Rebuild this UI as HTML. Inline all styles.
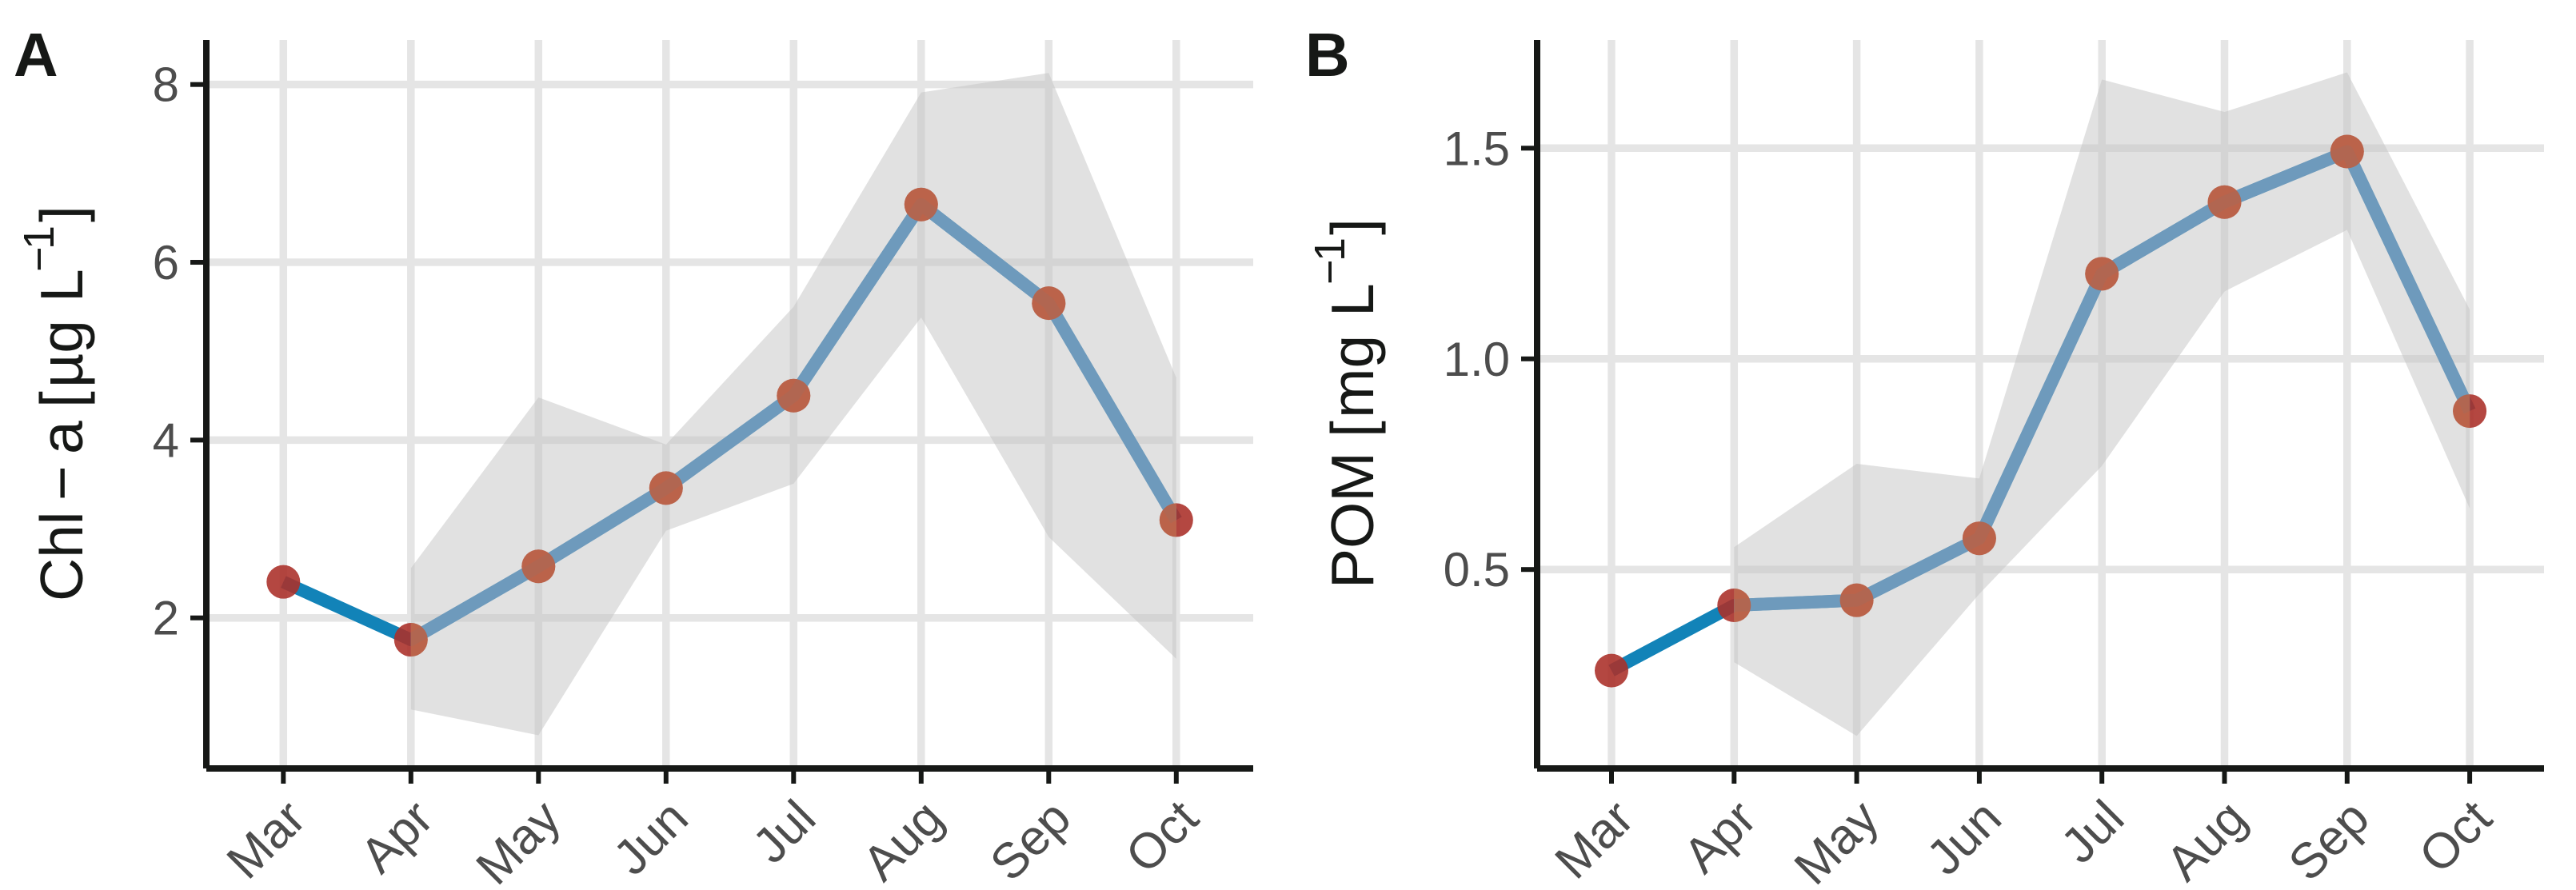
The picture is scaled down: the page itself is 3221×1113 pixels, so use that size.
<!DOCTYPE html>
<html lang="en">
<head>
<meta charset="utf-8">
<title>Chl-a and POM monthly means</title>
<style>
html,body{margin:0;padding:0;background:#fff;}
svg{display:block;font-family:"Liberation Sans",Arial,sans-serif;}
.lab{font-size:75px;fill:#161816;}
.sup{font-size:54px;fill:#161816;}
.tag{font-size:77px;font-weight:bold;fill:#161816;}
</style>
</head>
<body>
<svg id="chart" xmlns="http://www.w3.org/2000/svg" width="3221" height="1113" viewBox="0 0 3221 1113">
  <rect x="0" y="0" width="3221" height="1113" fill="#ffffff"/>
  <defs id="defs"></defs>
  <g id="panelA"></g>
  <g id="panelB"></g>

  <text class="tag" x="17" y="95">A</text>
  <text class="tag" x="1632" y="95">B</text>

  <g transform="translate(103,0) rotate(-90)">
    <text class="lab" x="-752" y="0">Chl</text>
    <text class="lab" x="-626" y="0">−</text>
    <text class="lab" x="-568" y="0">a</text>
    <text class="lab" x="-510" y="0">[</text>
    <text class="lab" x="-485" y="0">µg</text>
    <text class="lab" x="-378" y="0">L</text>
    <text class="sup" x="-340" y="-36">−</text>
    <text class="sup" x="-312" y="-36">1</text>
    <text class="lab" x="-278" y="0">]</text>
  </g>

  <g transform="translate(1717,0) rotate(-90)">
    <text class="lab" x="-736" y="0">POM</text>
    <text class="lab" x="-547" y="0">[</text>
    <text class="lab" x="-523" y="0">mg</text>
    <text class="lab" x="-396" y="0">L</text>
    <text class="sup" x="-356" y="-36">−</text>
    <text class="sup" x="-327" y="-36">1</text>
    <text class="lab" x="-294" y="0">]</text>
  </g>
</svg>

<script>
const months = ["Mar","Apr","May","Jun","Jul","Aug","Sep","Oct"];

const chlMean  = [2.405,1.754,2.58,3.46,4.50,6.65,5.54,3.10];
const chlUpper = [null,2.56,4.48,3.95,5.50,7.91,8.13,4.70];
const chlLower = [null,0.97,0.68,2.98,3.51,5.38,2.91,1.54];
const chlTicks = [2,4,6,8];
const chlTickLabels = ["2","4","6","8"];

const pomMean  = [0.26,0.415,0.427,0.574,1.202,1.372,1.492,0.876];
const pomUpper = [null,0.553,0.751,0.716,1.663,1.586,1.68,1.117];
const pomLower = [null,0.28,0.105,0.442,0.746,1.16,1.306,0.645];
const pomTicks = [0.5,1.0,1.5];
const pomTickLabels = ["0.5","1.0","1.5"];

const NS = "http://www.w3.org/2000/svg";

function make(tag, parent) {
  const e = document.createElementNS(NS, tag);
  parent.appendChild(e);
  return e;
}

function drawPanel(root, key, cfg, mean, upper, lower, ticks, tickLabels) {
  const xOf = i => cfg.x0 + i * cfg.dx;
  const yOf = v => cfg.yRef - (v - cfg.vRef) * cfg.perUnit;

  // horizontal grid
  ticks.forEach(function (t) {
    const g = make("line", root);
    
    
    g.setAttribute("x1", cfg.axisX);
    g.setAttribute("x2", cfg.right);
    g.setAttribute("y1", yOf(t));
    g.setAttribute("y2", yOf(t));
    g.setAttribute("stroke", "#e5e5e5");
    g.setAttribute("stroke-width", 9.5);
  });

  // vertical grid
  months.forEach(function (m, i) {
    const g = make("line", root);
    
    
    g.setAttribute("x1", xOf(i));
    g.setAttribute("x2", xOf(i));
    g.setAttribute("y1", 50);
    g.setAttribute("y2", 958);
    g.setAttribute("stroke", "#e5e5e5");
    g.setAttribute("stroke-width", 9.5);
  });

  // mean line
  const linePoints = mean.map((v, i) => xOf(i) + "," + yOf(v)).join(" ");
  const line = make("polyline", root);
  
  
  line.setAttribute("points", linePoints);
  line.setAttribute("fill", "none");
  line.setAttribute("stroke", "#1283b8");
  line.setAttribute("stroke-width", 16);
  line.setAttribute("stroke-linejoin", "round");

  // points
  mean.forEach(function (v, i) {
    const c = make("circle", root);
    
    
    c.setAttribute("cx", xOf(i));
    c.setAttribute("cy", yOf(v));
    c.setAttribute("r", 21);
    c.setAttribute("fill", "#ab302a");
    c.setAttribute("fill-opacity", "0.89");
  });

  // ribbon
  const pts = [];
  upper.forEach(function (v, i) { if (v !== null) pts.push(xOf(i) + "," + yOf(v)); });
  for (let i = lower.length - 1; i >= 0; i--) {
    if (lower[i] !== null) pts.push(xOf(i) + "," + yOf(lower[i]));
  }
  const rib = make("polygon", root);
  
  
  rib.setAttribute("points", pts.join(" "));
  rib.setAttribute("fill", "#c4c4c4");
  rib.setAttribute("fill-opacity", "0.51");

  // line and points as tinted inside the ribbon
  const clip = make("clipPath", document.getElementById("defs"));
  clip.setAttribute("id", "clip-" + key);
  const cp = make("polygon", clip);
  cp.setAttribute("points", pts.join(" "));
  const tintGroup = make("g", root);
  
  
  tintGroup.setAttribute("clip-path", "url(#clip-" + key + ")");

  const tintLine = make("polyline", tintGroup);
  
  
  tintLine.setAttribute("points", linePoints);
  tintLine.setAttribute("fill", "none");
  tintLine.setAttribute("stroke", "#6e9abc");
  tintLine.setAttribute("stroke-width", 16);
  tintLine.setAttribute("stroke-linejoin", "round");

  mean.forEach(function (v, i) {
    const c = make("circle", tintGroup);
    
    
    c.setAttribute("cx", xOf(i));
    c.setAttribute("cy", yOf(v));
    c.setAttribute("r", 21);
    c.setAttribute("fill", "#bb5e42");
    c.setAttribute("fill-opacity", "0.88");
  });

  // axes
  const ya = make("line", root);
  
  
  ya.setAttribute("x1", cfg.axisX);
  ya.setAttribute("x2", cfg.axisX);
  ya.setAttribute("y1", 50);
  ya.setAttribute("y2", 961);
  ya.setAttribute("stroke", "#161816");
  ya.setAttribute("stroke-width", 8);

  const xa = make("line", root);
  
  
  xa.setAttribute("x1", cfg.axisX);
  xa.setAttribute("x2", cfg.right);
  xa.setAttribute("y1", 961);
  xa.setAttribute("y2", 961);
  xa.setAttribute("stroke", "#161816");
  xa.setAttribute("stroke-width", 8);

  // y ticks & labels
  ticks.forEach(function (t, i) {
    const tk = make("line", root);
    
    
    tk.setAttribute("x1", cfg.axisX - 20);
    tk.setAttribute("x2", cfg.axisX - 4);
    tk.setAttribute("y1", yOf(t));
    tk.setAttribute("y2", yOf(t));
    tk.setAttribute("stroke", "#161816");
    tk.setAttribute("stroke-width", 6);

    const lb = make("text", root);
    
    
    lb.setAttribute("x", cfg.axisX - 34);
    lb.setAttribute("y", yOf(t) + 21);
    lb.setAttribute("text-anchor", "end");
    lb.setAttribute("font-size", 60);
    lb.setAttribute("fill", "#4d4d4d");
    lb.textContent = tickLabels[i];
  });

  // x ticks & labels
  months.forEach(function (m, i) {
    const tk = make("line", root);
    
    
    tk.setAttribute("x1", xOf(i));
    tk.setAttribute("x2", xOf(i));
    tk.setAttribute("y1", 965);
    tk.setAttribute("y2", 980);
    tk.setAttribute("stroke", "#161816");
    tk.setAttribute("stroke-width", 6);

    const lb = make("text", root);
    
    
    lb.setAttribute("text-anchor", "end");
    lb.setAttribute("font-size", 62);
    lb.setAttribute("fill", "#4d4d4d");
    lb.setAttribute("transform", "translate(" + (xOf(i) + 31) + ",1027) rotate(-45)");
    lb.textContent = m;
  });
}

const cfgA = { x0: 354.3, dx: 159.5, axisX: 258, right: 1567, yRef: 772.7, vRef: 2, perUnit: 111.17 };
const cfgB = { x0: 2015, dx: 153.3, axisX: 1922, right: 3181, yRef: 712.2, vRef: 0.5, perUnit: 526.9 };

drawPanel(document.getElementById("panelA"), "a", cfgA, chlMean, chlUpper, chlLower, chlTicks, chlTickLabels);
drawPanel(document.getElementById("panelB"), "b", cfgB, pomMean, pomUpper, pomLower, pomTicks, pomTickLabels);
</script>
</body>
</html>
